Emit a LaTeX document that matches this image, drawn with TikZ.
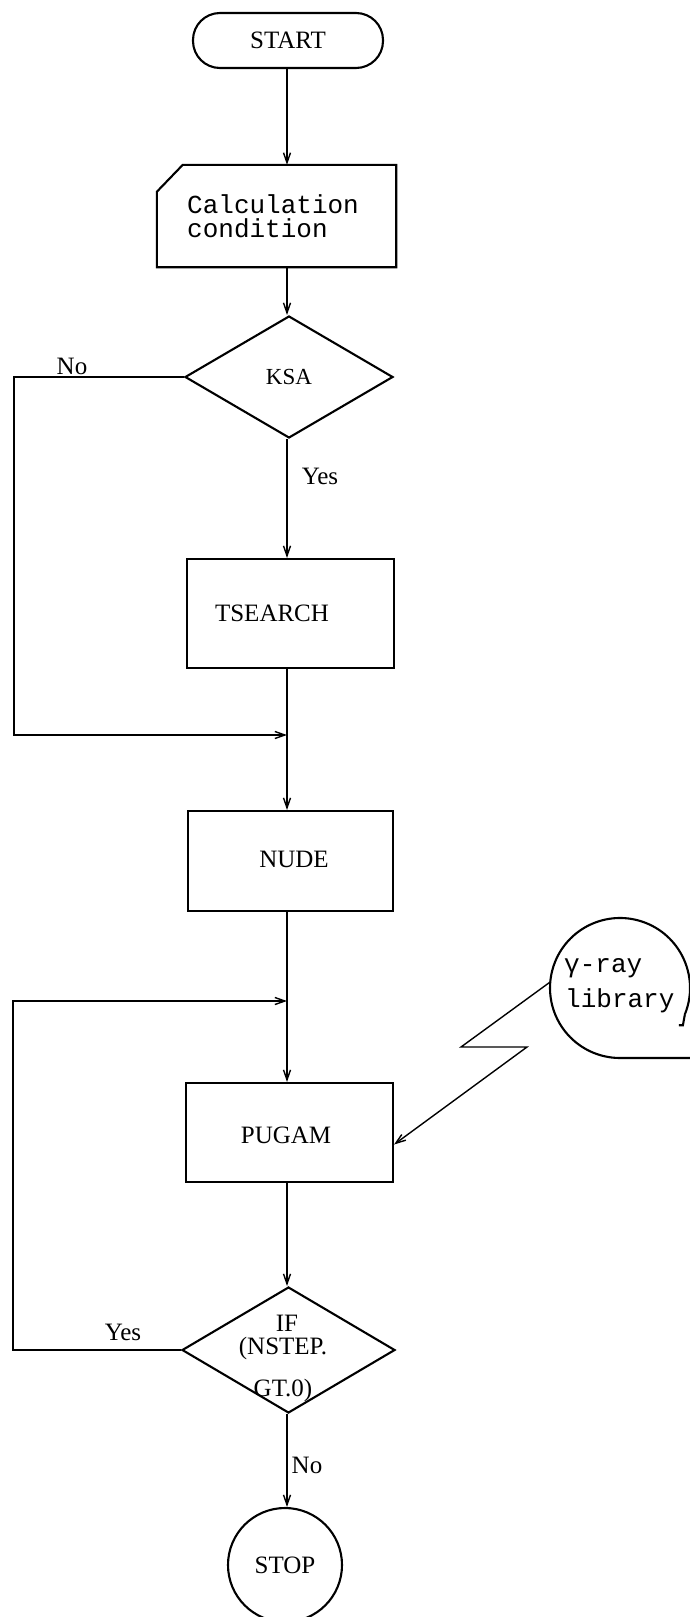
\documentclass[tikz,border=0pt]{standalone}
\usepackage{fontspec}
\setmainfont{Liberation Serif}
\setmonofont{Liberation Mono}
\usetikzlibrary{shapes.geometric,arrows.meta,calc}
\begin{document}
\begin{tikzpicture}[x=1pt,y=-1pt,
  shapeline/.style={draw, line width=2.1pt},
  conn/.style={line width=1.4pt},
  arr/.style={conn, -{Straight Barb[length=10pt,width=7pt]}},
  txt/.style={font=\fontsize{25}{27}\selectfont, inner sep=0pt},
  smalltxt/.style={font=\fontsize{23}{25}\selectfont, inner sep=0pt},
  mono/.style={font=\ttfamily\fontsize{26}{30}\selectfont, inner sep=0pt},
  boxnode/.style={shapeline, rectangle, inner sep=0pt},
]
\useasboundingbox (0,0) rectangle (690,1617);

% START
\node[shapeline, rounded corners=27pt, minimum width=190pt, minimum height=55pt, inner sep=0pt, txt] (start) at (288,40.5) {START};

% Calculation condition (card)
\node[minimum width=239pt, minimum height=102pt, inner sep=0pt] (card) at (276.5,216) {};
\draw[shapeline] ($(card.north west)+(0,-27pt)$) -- ($(card.north west)+(26pt,0)$) -- (card.north east) -- (card.south east) -- (card.south west) -- cycle;
\node[mono, anchor=base west] (calc1) at (187,213) {Calculation};
\node[mono, anchor=base west] (calc2) at (187,237) {condition};

% KSA
\node[shapeline, diamond, aspect=1.7, minimum width=208pt, minimum height=122pt, inner sep=0pt, smalltxt] (ksa) at (289,377) {KSA};
\node[txt] (ksano) at (72,366) {No};
\node[txt] (ksayes) at (320,476) {Yes};

% TSEARCH
\node[boxnode, minimum width=207pt, minimum height=109pt] (ts) at (290.5,613.5) {};
\node[txt] (tstxt) at (272,613) {TSEARCH};

% NUDE
\node[boxnode, minimum width=205pt, minimum height=100pt] (nude) at (290.5,861) {};
\node[txt] (nudetxt) at (294,859) {NUDE};

% PUGAM
\node[boxnode, minimum width=207pt, minimum height=99pt] (pugam) at (289.5,1132.5) {};
\node[txt] (pugamtxt) at (286,1135) {PUGAM};

% IF diamond
\node[shapeline, diamond, aspect=1.69, minimum width=213pt, minimum height=126pt, inner sep=0pt] (if) at (288.5,1350) {};
\node[txt, anchor=base] (if1) at (287,1331) {IF};
\node[txt, anchor=base] (if2) at (283,1354) {(NSTEP.};
\node[txt, anchor=base] (if3) at (283,1396) {GT.0)};
\node[txt] (ifyes) at (123,1332) {Yes};
\node[txt] (ifno) at (307,1465) {No};

% STOP
\node[shapeline, circle, minimum size=114pt, inner sep=0pt, txt] (stop) at (285,1565) {STOP};

% gamma-ray library (tape symbol)
\node[circle, minimum size=140pt, inner sep=0pt, outer sep=0pt] (lib) at (620,988) {};
\draw[shapeline] (lib.-22) -- ++(-2pt,-11pt) -- ++(-4pt,0pt);
\draw[shapeline] (lib.-22) arc[start angle=-22, end angle=270, radius=70pt] -- ++(72pt,0pt);
\node[mono, anchor=base west] (lib1) at (564,972) {γ-ray};
\node[mono, anchor=base west] (lib2) at (565,1007) {library};

% helper coordinates
\coordinate (j1) at (287,735);
\coordinate (j2) at (287,1001);
\coordinate (l2) at (14,735);
\coordinate (l3) at (13,1001);
\coordinate (z1) at (461,1047);
\coordinate (z2) at (527,1047);

% main spine
\draw[arr] (j1 |- start.south) -- (j1 |- card.north);
\draw[arr] (j1 |- card.south) -- (j1 |- ksa.north);
\draw[arr] (j1 |- ksa.south) -- (j1 |- ts.north);
\draw[conn] (j1 |- ts.south) -- (j1);
\draw[arr] (j1) -- (j1 |- nude.north);
\draw[conn] (j1 |- nude.south) -- (j2);
\draw[arr] (j2) -- (j1 |- pugam.north);
\draw[arr] (j1 |- pugam.south) -- (j1 |- if.north);
\draw[arr] (j1 |- if.south) -- (j1 |- stop.north);

% loops
\draw[arr] (ksa.west) -- (ksa.west -| l2) -- (l2) -- (j1);
\draw[arr] (if.west) -- (if.west -| l3) -- (l3) -- (j2);

% library connector
\draw[arr] (lib.175) -- (z1) -- (z2) -- ([yshift=-12pt]pugam.east);
\end{tikzpicture}
\end{document}
